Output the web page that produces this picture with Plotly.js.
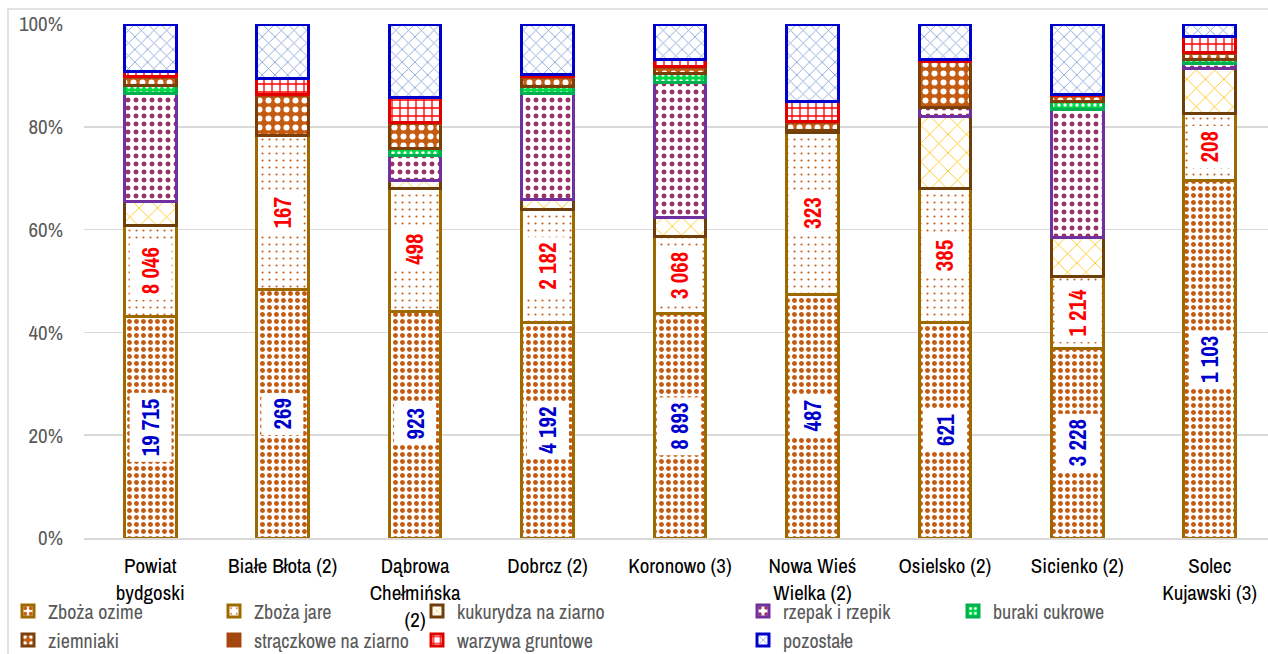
<!DOCTYPE html>
<html>
<head>
<meta charset="utf-8">
<script src="https://cdn.plot.ly/plotly-3.0.1.min.js"></script>
<style>
  html, body { margin: 0; padding: 0; background: #ffffff; }
  #chart { width: 1268px; height: 654px; }
</style>
</head>
<body>
<div id="chart"></div>
<script>
// Gminy powiatu bydgoskiego (liczba w nawiasie: typ gminy)
const municipalities = ['Powiat bydgoski', 'Białe Błota (2)', 'Dąbrowa Chełmińska (2)', 'Dobrcz (2)',
  'Koronowo (3)', 'Nowa Wieś Wielka (2)', 'Osielsko (2)', 'Sicienko (2)', 'Solec Kujawski (3)'];
const tickLabels = ['Powiat<br>bydgoski', 'Białe Błota (2)', 'Dąbrowa<br>Chełmińska<br>(2)', 'Dobrcz (2)',
  'Koronowo (3)', 'Nowa Wieś<br>Wielka (2)', 'Osielsko (2)', 'Sicienko (2)', 'Solec<br>Kujawski (3)'];

// Powierzchnia zasiewów [ha]
const zbozaOzime = [19715, 269, 923, 4192, 8893, 487, 621, 3228, 1103];
const zbozaJare  = [8046, 167, 498, 2182, 3068, 323, 385, 1214, 208];
const kukurydza  = [2150, 0, 33, 210, 753, 4, 207, 672, 139];
const rzepak     = [9580, 0, 102, 2056, 5352, 0, 28, 2172, 13];
const buraki     = [730, 0, 29, 140, 356, 0, 0, 131, 13];
const ziemniaki  = [730, 43, 102, 160, 244, 17, 132, 96, 19];
const straczkowe = [90, 2, 4, 20, 41, 2, 0, 9, 2];
const warzywa    = [460, 17, 100, 40, 244, 40, 6, 9, 49];
const pozostale  = [4200, 59, 299, 988, 1425, 154, 101, 1204, 40];

const NARROW = '"Archivo Narrow", "Roboto Condensed", sans-serif';

// Plot area in pixels: left 84, bottom 538, top 24
const PL = 84, PW = 1268 - 84, PT = 24, PB = 538, PH = PB - PT;
const px2x = p => (p - PL) / PW;
const px2y = p => (PB - p) / PH;

const series = [
  { name: 'Zboża ozime', values: zbozaOzime, line: '#9E6A00',
    pattern: { shape: '.', fgcolor: '#C55A11', bgcolor: '#ffffff', size: 7, solidity: 0.4 }, leg: [48, 611] },
  { name: 'Zboża jare', values: zbozaJare, line: '#9E6A00',
    pattern: { shape: '.', fgcolor: '#C55A11', bgcolor: '#ffffff', size: 7, solidity: 0.07 }, leg: [254, 611] },
  { name: 'kukurydza na ziarno', values: kukurydza, line: '#6F3F0A',
    pattern: { shape: 'x', fgcolor: '#FFC000', bgcolor: '#ffffff', size: 13, solidity: 0.12 }, leg: [457, 611] },
  { name: 'rzepak i rzepik', values: rzepak, line: '#7030A0',
    pattern: { shape: '.', fgcolor: '#993366', bgcolor: '#ffffff', size: 8, solidity: 0.3 }, leg: [783, 611] },
  { name: 'buraki cukrowe', values: buraki, line: '#00B050',
    pattern: { shape: '.', fgcolor: '#ffffff', bgcolor: '#00D84A', size: 6, solidity: 0.25 }, leg: [993, 611] },
  { name: 'ziemniaki', values: ziemniaki, line: '#7B3F0A',
    pattern: { shape: '.', fgcolor: '#ffffff', bgcolor: '#C55A11', size: 9, solidity: 0.35 }, leg: [48, 640] },
  { name: 'strączkowe na ziarno', values: straczkowe, line: '#A5460E', solid: '#A5460E', leg: [254, 640] },
  { name: 'warzywa gruntowe', values: warzywa, line: '#E00000',
    pattern: { shape: '+', fgcolor: '#FF0000', bgcolor: '#ffffff', size: 8, solidity: 0.3 }, leg: [457, 640] },
  { name: 'pozostałe', values: pozostale, line: '#0000CC',
    pattern: { shape: 'x', fgcolor: '#8EA9DB', bgcolor: '#ffffff', size: 9, solidity: 0.2 }, leg: [783, 640] }
];

const layout = {
  width: 1268, height: 654,
  margin: { l: PL, r: 0, t: PT, b: 654 - PB, autoexpand: false },
  paper_bgcolor: '#ffffff', plot_bgcolor: '#ffffff',
  barmode: 'stack', barnorm: 'percent', bargap: 0.61,
  font: { family: NARROW, size: 21, color: '#595959' },
  xaxis: {
    type: 'category', range: [-0.5, 8.44], automargin: false,
    tickvals: municipalities, ticktext: tickLabels,
    showgrid: false, showline: true, linecolor: '#D9D9D9', linewidth: 1.5,
    ticks: '', ticklabelstandoff: 8,
    tickfont: { family: NARROW, size: 21, color: '#000000' }
  },
  yaxis: {
    range: [0, 100], dtick: 20, ticksuffix: '%', automargin: false,
    showgrid: true, gridcolor: '#D9D9D9', gridwidth: 1.5, zeroline: false,
    showline: false, ticks: '', ticklabelstandoff: 20,
    tickfont: { family: NARROW, size: 21, color: '#595959' }
  },
  showlegend: true,
  annotations: [],
  shapes: [{
    type: 'rect', xref: 'paper', yref: 'paper',
    x0: px2x(8), x1: px2x(1300), y0: px2y(700), y1: px2y(9),
    line: { color: '#D9D9D9', width: 1.5 }, fillcolor: 'rgba(0,0,0,0)', layer: 'below'
  }]
};

const traces = series.map((s, i) => {
  const legendId = i === 0 ? 'legend' : 'legend' + (i + 1);
  layout[legendId] = {
    x: px2x(s.leg[0] - 40), y: px2y(s.leg[1]), xanchor: 'left', yanchor: 'middle',
    bgcolor: 'rgba(0,0,0,0)', borderwidth: 0,
    font: { family: NARROW, size: 20, color: '#595959' }
  };
  const marker = { color: s.solid || '#ffffff', line: { color: s.line, width: 3 } };
  if (s.pattern) marker.pattern = Object.assign({ fillmode: 'replace' }, s.pattern);
  return {
    type: 'bar', name: s.name, x: municipalities, y: s.values,
    marker: marker, legend: legendId, hoverinfo: 'skip'
  };
});

// Value labels for cereals (winter: blue, spring: red)
const fmt = n => String(n).replace(/\B(?=(\d{3})+(?!\d))/g, ' ');
municipalities.forEach((m, i) => {
  const total = series.reduce((acc, s) => acc + s.values[i], 0);
  const pOz = zbozaOzime[i] / total * 100;
  const pJa = zbozaJare[i] / total * 100;
  layout.annotations.push({
    x: m, y: pOz / 2, xref: 'x', yref: 'y', text: fmt(zbozaOzime[i]), showarrow: false,
    textangle: -90, bgcolor: '#ffffff', borderpad: 5,
    font: { family: NARROW, size: 23, color: '#0000CC', weight: 'bold' }
  });
  layout.annotations.push({
    x: m, y: pOz + pJa / 2, xref: 'x', yref: 'y', text: fmt(zbozaJare[i]), showarrow: false,
    textangle: -90, bgcolor: '#ffffff', borderpad: 5,
    font: { family: NARROW, size: 23, color: '#FF0000', weight: 'bold' }
  });
});

Plotly.newPlot('chart', traces, layout, { displayModeBar: false, staticPlot: true });
</script>
</body>
</html>
